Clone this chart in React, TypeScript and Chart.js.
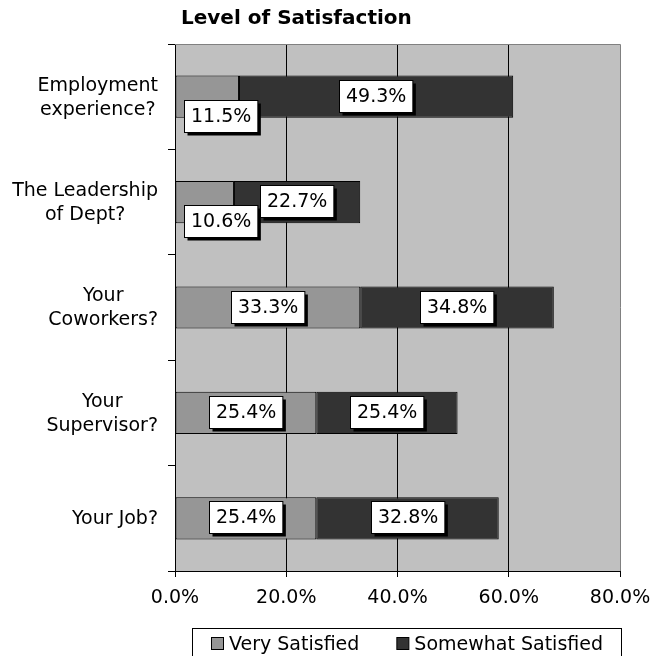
import React, { useEffect, useRef } from 'react';
import { Chart, registerables } from 'chart.js';

Chart.register(...registerables);

const chartTitle = 'Level of Satisfaction';
const categories: string[][] = [
  ['Employment', 'experience?'],
  ['The Leadership', 'of Dept?'],
  ['Your', 'Coworkers?'],
  ['Your', 'Supervisor?'],
  ['Your Job?'],
];
const seriesNames = ['Very Satisfied', 'Somewhat Satisfied'];
const verySatisfied = [11.5, 10.6, 33.3, 25.4, 25.4];
const somewhatSatisfied = [49.3, 22.7, 34.8, 25.4, 32.8];
const xMin = 0;
const xMax = 80;
const xStep = 20;

const FONT = '"DejaVu Sans", Verdana, sans-serif';
const COLORS = ['#969696', '#333333'];

const customPlugin = {
  id: 'customDraw',
  beforeDraw(chart: any) {
    const { ctx, chartArea: a } = chart;
    ctx.save();
    ctx.fillStyle = '#c0c0c0';
    ctx.fillRect(a.left, a.top, a.right - a.left, a.bottom - a.top);
    ctx.restore();
  },
  afterDatasetsDraw(chart: any) {
    const { ctx, chartArea: a } = chart;
    ctx.save();
    // top and right frame in gray
    ctx.strokeStyle = '#808080';
    ctx.lineWidth = 1;
    const r = Math.round(a.right) + 0.5;
    const t = Math.round(a.top) + 0.5;
    ctx.beginPath();
    ctx.moveTo(a.left, t);
    ctx.lineTo(r, t);
    ctx.lineTo(r, a.bottom);
    ctx.stroke();

    // data labels
    ctx.font = `19px ${FONT}`;
    ctx.textAlign = 'center';
    ctx.textBaseline = 'middle';
    chart.data.datasets.forEach((ds: any, di: number) => {
      const meta = chart.getDatasetMeta(di);
      meta.data.forEach((el: any, i: number) => {
        const v = ds.data[i];
        const txt = v.toFixed(1) + '%';
        const tw = ctx.measureText(txt).width;
        const bw = tw + 13;
        const bh = 32;
        const segL = Math.min(el.x, el.base);
        const segR = Math.max(el.x, el.base);
        let bx: number;
        let by: number;
        if (bw > segR - segL) {
          bx = segL + 8;
          by = el.y + 3;
        } else {
          bx = (segL + segR) / 2 - bw / 2;
          by = el.y - 1 - bh / 2;
        }
        bx = Math.round(bx) + 0.5;
        by = Math.round(by) + 0.5;
        ctx.fillStyle = '#000';
        ctx.fillRect(bx + 3, by + 3, bw, bh);
        ctx.fillStyle = '#fff';
        ctx.fillRect(bx, by, bw, bh);
        ctx.strokeStyle = '#000';
        ctx.strokeRect(bx, by, bw, bh);
        ctx.fillStyle = '#000';
        ctx.fillText(txt, bx + bw / 2, by + bh / 2 + 1);
      });
    });
    ctx.restore();
  },
  afterDraw(chart: any) {
    const { ctx } = chart;
    ctx.save();
    // title
    ctx.font = `bold 20px ${FONT}`;
    ctx.fillStyle = '#000';
    ctx.textAlign = 'left';
    ctx.textBaseline = 'alphabetic';
    ctx.fillText(chartTitle, 181, 24);

    // category labels: right-aligned block, centered lines
    const yScale = chart.scales.y;
    ctx.font = `19px ${FONT}`;
    ctx.textAlign = 'center';
    ctx.textBaseline = 'middle';
    const blockRight = chart.chartArea.left - 17;
    const lh = 24;
    (chart.data.labels as string[][]).forEach((lines: string[], i: number) => {
      const cy = yScale.getPixelForValue(i);
      const w = Math.max(...lines.map((l) => ctx.measureText(l).width));
      const cx = blockRight - w / 2;
      lines.forEach((l, k) => {
        ctx.fillText(l, cx, cy + (k - (lines.length - 1) / 2) * lh + 1);
      });
    });

    // legend with frame
    const left = 192;
    const top = 628;
    let x = left + 19;
    const cyL = 644;
    const items = chart.data.datasets.map((ds: any) => ({ label: ds.label, color: ds.backgroundColor }));
    ctx.textAlign = 'left';
    let end = x;
    items.forEach((it: any, i: number) => {
      ctx.fillStyle = it.color;
      ctx.fillRect(x + 0.5, cyL - 7 + 0.5, 12, 12);
      ctx.strokeStyle = '#000';
      ctx.lineWidth = 1;
      ctx.strokeRect(x + 0.5, cyL - 7 + 0.5, 12, 12);
      ctx.fillStyle = '#000';
      const tx = x + 18;
      ctx.fillText(it.label, tx, cyL + 1);
      const tw = ctx.measureText(it.label).width;
      end = tx + tw;
      x = end + 37;
    });
    ctx.strokeStyle = '#000';
    ctx.strokeRect(left + 0.5, top + 0.5, Math.round(end + 18 - left), 60);
    ctx.restore();
  },
};

export default function App() {
  const ref = useRef<HTMLCanvasElement | null>(null);
  useEffect(() => {
    if (!ref.current) return;
    const chart = new Chart(ref.current, {
      type: 'bar',
      data: {
        labels: categories as any,
        datasets: [
          {
            label: seriesNames[0],
            data: verySatisfied,
            backgroundColor: COLORS[0],
            borderColor: '#000',
            borderWidth: 1,
            borderSkipped: false,
            barPercentage: 0.4,
            categoryPercentage: 1,
          },
          {
            label: seriesNames[1],
            data: somewhatSatisfied,
            backgroundColor: COLORS[1],
            borderColor: '#000',
            borderWidth: 1,
            borderSkipped: false,
            barPercentage: 0.4,
            categoryPercentage: 1,
          },
        ],
      },
      options: {
        indexAxis: 'y',
        responsive: false,
        animation: false,
        events: [],
        layout: { padding: { left: 0, top: 44, right: 43, bottom: 45 } },
        plugins: {
          legend: { display: false },
          title: { display: false },
          tooltip: { enabled: false },
        },
        scales: {
          x: {
            stacked: true,
            min: xMin,
            max: xMax,
            ticks: {
              stepSize: xStep,
              color: '#000',
              font: { family: FONT, size: 19 },
              padding: 10,
              maxRotation: 0,
              callback: (v: any) => Number(v).toFixed(1) + '%',
            },
            grid: {
              color: (c: any) => (c.tick && c.tick.value === xMax ? 'rgba(0,0,0,0)' : '#000'),
              tickColor: '#000',
              tickLength: 6,
              lineWidth: 1,
            },
            border: { display: true, color: '#000', width: 1 },
            afterFit: (s: any) => {
              s.height = 40;
            },
          },
          y: {
            stacked: true,
            offset: true,
            ticks: { display: false },
            grid: {
              offset: true,
              drawOnChartArea: false,
              color: '#000',
              tickLength: 7,
              lineWidth: 1,
            },
            border: { display: true, color: '#000', width: 1 },
            afterFit: (s: any) => {
              s.width = 175;
            },
          },
        },
      },
      plugins: [customPlugin],
    } as any);
    return () => chart.destroy();
  }, []);
  return (
    <div style={{ position: 'fixed', left: 0, top: 0, width: 663, height: 656, background: '#fff' }}>
      <canvas ref={ref} width={663} height={656} style={{ width: 663, height: 656, display: 'block' }} />
    </div>
  );
}
